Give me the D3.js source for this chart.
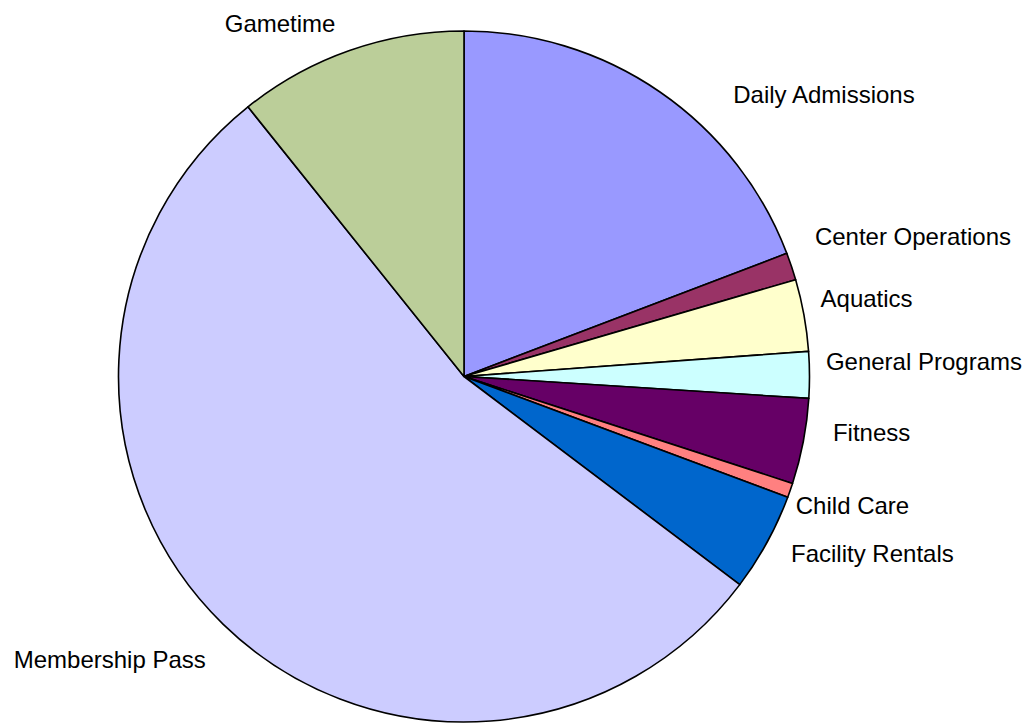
<!DOCTYPE html>
<html>
<head>
<meta charset="utf-8">
<script src="https://cdn.jsdelivr.net/npm/d3@7"></script>
<style>
  html, body { margin: 0; padding: 0; background: #ffffff; }
  svg { display: block; }
</style>
</head>
<body>
<svg id="chart" width="1034" height="723"></svg>
<script>
// Data (percent share), clockwise from 12 o'clock
const categories = ["Daily Admissions", "Center Operations", "Aquatics", "General Programs",
  "Fitness", "Child Care", "Facility Rentals", "Membership Pass", "Gametime"];
const values = [19.2, 1.28, 3.36, 2.17, 4.0, 0.67, 4.61, 53.96, 10.75];
const colors = ["#9999FF", "#993366", "#FFFFCC", "#CCFFFF", "#660066", "#FF8080",
  "#0066CC", "#CCCCFF", "#BBCE99"];

// Label placement: angle (deg, clockwise from north) and distance as multiple of radius
const labelAngles = [51.9, 72.7, 79.0, 88.1, 97.9, 108.4, 113.4, 231.4, 332.5];
const labelDist = [1.324, 1.361, 1.187, 1.332, 1.191, 1.185, 1.288, 1.312, 1.153];

const svg = d3.select("#chart");
const cx = 464, cy = 376.5, R = 345.5;

const data = categories.map((c, i) => ({ name: c, value: values[i], color: colors[i],
  la: labelAngles[i], ld: labelDist[i] }));

const pie = d3.pie().value(d => d.value).sort(null);
const arc = d3.arc().innerRadius(0).outerRadius(R);

const g = svg.append("g").attr("transform", `translate(${cx},${cy})`);

g.selectAll("path.slice")
  .data(pie(data))
  .enter().append("path")
  .attr("class", "slice")
  .attr("d", arc)
  .attr("fill", d => d.data.color)
  .attr("stroke", "#000")
  .attr("stroke-width", 1.6)
  .attr("stroke-linejoin", "round");

const rScale = d3.scaleLinear().domain([0, 1]).range([0, R]);

g.selectAll("text.label")
  .data(data)
  .enter().append("text")
  .attr("class", "label")
  .attr("x", d => rScale(d.ld) * Math.sin(d.la * Math.PI / 180))
  .attr("y", d => -rScale(d.ld) * Math.cos(d.la * Math.PI / 180))
  .attr("text-anchor", "middle")
  .attr("dy", "0.35em")
  .attr("font-family", "Arial, 'Liberation Sans', sans-serif")
  .attr("font-size", 24)
  .attr("fill", "#000")
  .text(d => d.name);
</script>
</body>
</html>
